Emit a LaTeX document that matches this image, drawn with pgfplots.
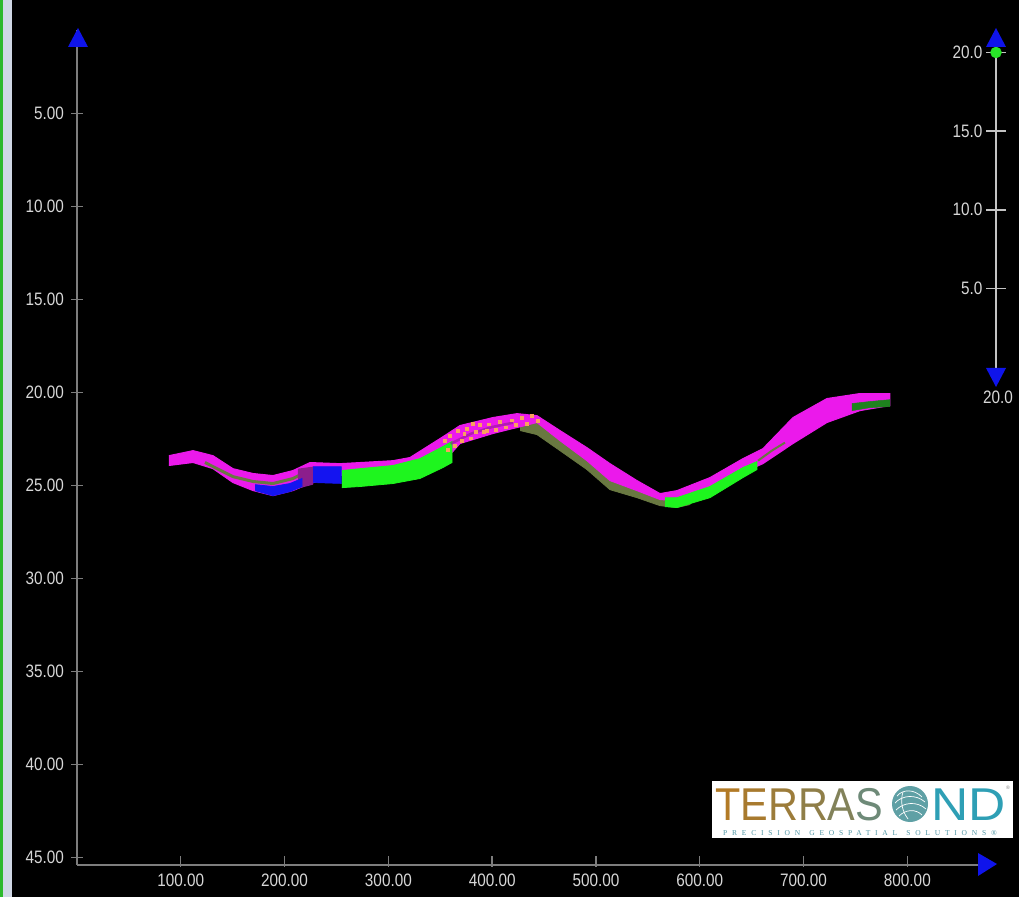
\documentclass[border=0pt]{standalone}
\usepackage{pgfplots}
\pgfplotsset{compat=1.18}
\usepackage{fontspec}
\setmainfont{Liberation Sans}
\newfontfamily\tickfont[FakeStretch=0.85]{Liberation Sans}
\newfontfamily\logofont[FakeStretch=0.9]{Liberation Sans}
\newfontfamily\logowide[FakeStretch=1.12]{Liberation Sans}
\newfontfamily\subfont[LetterSpace=64]{Liberation Serif}
\definecolor{mag}{RGB}{235,25,235}
\definecolor{olv}{RGB}{105,120,65}
\definecolor{bgreen}{RGB}{30,245,30}
\definecolor{dgreen}{RGB}{30,130,30}
\definecolor{bblue}{RGB}{20,20,240}
\definecolor{orng}{RGB}{250,160,95}
\definecolor{purp}{RGB}{140,30,140}
\definecolor{axgray}{RGB}{125,125,125}
\definecolor{scalegray}{RGB}{195,195,195}
\definecolor{lblgray}{RGB}{215,215,215}
\definecolor{arrblue}{RGB}{15,20,235}
\definecolor{dotgreen}{RGB}{40,230,40}
\definecolor{lgA}{RGB}{178,122,38}
\definecolor{lgB}{RGB}{168,122,46}
\definecolor{lgC}{RGB}{156,124,58}
\definecolor{lgD}{RGB}{143,126,72}
\definecolor{lgE}{RGB}{130,130,90}
\definecolor{lgF}{RGB}{110,138,120}
\definecolor{lgN}{RGB}{46,159,181}
\definecolor{lgG}{RGB}{95,160,165}
\definecolor{lgS}{RGB}{80,150,165}
\begin{document}
\begin{tikzpicture}
\useasboundingbox (0,0) rectangle (1019pt,897pt);
\fill[black] (0,0) rectangle (1019pt,897pt);
\fill[fill={rgb,255:red,45;green,185;blue,45}] (0,0) rectangle (3pt,897pt);
\fill[fill={rgb,255:red,208;green,216;blue,230}] (3pt,0) rectangle (12pt,897pt);

\begin{axis}[
  at={(77pt,32pt)}, anchor=south west, scale only axis,
  width=913.4pt, height=835.1pt,
  xmin=0, xmax=880, ymin=0.5, ymax=45.4, y dir=reverse,
  axis x line=bottom, axis y line=left,
  axis line style={draw=axgray, line width=1.6pt, -},
  xtick={100,200,...,800}, ytick={5,10,...,45},
  tick align=center, major tick length=11pt,
  tick style={draw=axgray, line width=1.4pt},
  x tick style={yshift=4pt},
  /pgf/number format/assume math mode=true,
  tick label style={font=\tickfont\fontsize{18}{18}\selectfont, text=lblgray},
  xticklabel style={/pgf/number format/.cd, fixed, fixed zerofill, precision=2, 1000 sep={}},
  yticklabel style={xshift=-4pt, /pgf/number format/.cd, fixed, fixed zerofill, precision=2},
  clip=false,
]
% olive under-layer
\addplot[fill=olv, draw=olv, line width=0.8pt] coordinates {
(426.8,21.18) (443.2,21.29) (465.3,22.10) (491.3,23.01) (513.5,23.92) (539.5,24.95) (561.7,25.59) (578.0,25.70) (590.6,25.48)
(590.6,26.02) (578.0,26.18) (561.7,26.08) (539.5,25.65) (513.5,25.22) (491.3,24.14) (465.3,23.12) (443.2,22.26) (426.8,22.04)};
% magenta main band
\addplot[fill=mag, draw=mag, line width=1pt] coordinates {
(88.6,23.39) (111.8,23.12) (131.0,23.39) (150.3,24.09) (169.6,24.35) (188.8,24.46) (208.1,24.19) (224.5,23.76)
(253.4,23.82) (272.6,23.76) (304.4,23.66) (320.8,23.49) (352.6,22.37) (369.0,21.77) (400.8,21.34) (423.9,21.13)
(443.2,21.24) (465.3,22.04) (491.3,22.96) (513.5,23.82) (539.5,24.73) (561.7,25.43) (578.0,25.27) (609.8,24.57)
(641.6,23.55) (660.9,23.01) (689.8,21.34) (722.5,20.32) (754.3,20.05) (783.2,20.05)
(783.2,20.70) (754.3,20.97) (722.5,21.61) (689.8,22.74) (660.9,23.82) (641.6,24.30) (609.8,25.27) (578.0,25.81)
(561.7,25.75) (539.5,25.27) (513.5,24.73) (491.3,23.66) (465.3,22.58) (443.2,21.61) (423.9,21.88) (400.8,22.20)
(369.0,22.74) (352.6,23.76) (320.8,23.92) (304.4,24.19) (272.6,24.30) (253.4,24.46) (224.5,24.89) (208.1,25.27)
(188.8,25.54) (169.6,25.27) (150.3,24.84) (131.0,24.09) (111.8,23.76) (88.6,23.92)};
% olive stripe in the first dip
\addplot[olv, line width=3pt] coordinates {(123.3,23.76) (150.3,24.52) (169.6,24.78) (188.8,24.89) (208.1,24.62) (219.7,24.30)};
% purple patch
\addplot[fill=purp, draw=none] coordinates {(212.9,24.09) (227.4,23.98) (227.4,24.95) (212.9,25.16)};
% blue in the dip
\addplot[fill=bblue, draw=bblue, line width=0.8pt] coordinates {
(171.5,24.95) (188.8,25.05) (205.2,24.89) (216.8,24.62) (216.8,25.05) (205.2,25.32) (188.8,25.54) (171.5,25.27)};
% blue block
\addplot[fill=bblue, draw=bblue, line width=0.5pt] coordinates {(227.4,23.98) (254.8,23.98) (254.8,24.89) (227.4,24.84)};
% bright green block
\addplot[fill=bgreen, draw=bgreen, line width=0.8pt] coordinates {
(255.3,24.19) (272.6,24.09) (304.4,23.92) (330.4,23.55) (352.6,22.90) (361.3,22.63)
(361.3,23.76) (352.6,24.03) (330.4,24.62) (304.4,24.89) (272.6,25.05) (255.3,25.11)};
% bright green second stretch
\addplot[fill=bgreen, draw=bgreen, line width=0.8pt] coordinates {
(566.5,25.65) (578.0,25.65) (609.8,25.05) (641.6,24.03) (655.1,23.71)
(655.1,24.14) (641.6,24.57) (609.8,25.65) (578.0,26.18) (566.5,26.13)};
% thin olive stripe
\addplot[olv, line width=2pt] coordinates {(656.1,23.66) (670.0,23.10) (682.1,22.69)};
% dark green at the right end
\addplot[fill=dgreen, draw=dgreen, line width=0.5pt] coordinates {
(746.6,20.59) (764.0,20.48) (783.2,20.38) (783.2,20.75) (764.0,20.81) (746.6,20.97)};
% purple tint in the speckled stretch
\addplot[purp, line width=2.5pt, opacity=0.6] coordinates {(360.0,22.75) (380.0,22.20) (400.0,21.85) (420.0,21.62)};
% orange speckles
\addplot[only marks, mark=square*, mark size=1.4pt, color=orng] coordinates {
(354.5,22.58) (359.3,22.30) (367.1,22.05) (370.9,22.58) (375.7,21.94) (379.6,22.45) (384.4,22.10) (388.2,21.73)
(392.1,22.12) (397.0,21.70) (403.7,21.98) (407.5,21.58) (413.3,21.86) (419.1,21.48) (428.8,21.37) (433.5,21.66)
(438.3,21.26) (444.1,21.50) (364.2,22.84) (357.4,23.05) (373.0,22.22) (381.5,21.68) (395.0,22.05) (423.0,21.72)};
\end{axis}
% main axis arrows
\fill[arrblue] (68pt,850pt) -- (88pt,850pt) -- (78pt,869pt) -- cycle;
\fill[arrblue] (978pt,44pt) -- (978pt,21pt) -- (997pt,33pt) -- cycle;

% right-hand scale
\begin{axis}[
  at={(986pt,522pt)}, anchor=south west, scale only axis,
  width=20pt, height=329.6pt,
  xmin=-1, xmax=1, ymin=-0.5, ymax=20.45,
  axis x line=none, axis y line=center,
  axis line style={draw=scalegray, line width=1.8pt, -},
  xtick=\empty, ytick={5,10,15,20},
  tick align=center, major tick length=20pt,
  tick style={draw=scalegray, line width=1.6pt},
  /pgf/number format/assume math mode=true,
  tick label style={font=\tickfont\fontsize{18}{18}\selectfont, text=lblgray},
  yticklabel style={/pgf/number format/.cd, fixed, fixed zerofill, precision=1},
  clip=false,
]
\addplot[only marks, mark=*, mark size=5.5pt, color=dotgreen] coordinates {(0,20)};
\end{axis}
\fill[arrblue] (986pt,850pt) -- (1006pt,850pt) -- (996pt,869pt) -- cycle;
\fill[arrblue] (986pt,529pt) -- (1006pt,529pt) -- (996pt,510pt) -- cycle;
\node[font=\tickfont\fontsize{18}{18}\selectfont, text=lblgray, inner sep=0pt] at (998pt,500pt) {20.0};

% logo
\fill[white] (712pt,59pt) rectangle (1013pt,116pt);
\node[anchor=base west, inner sep=0pt, font=\logofont\fontsize{46}{46}\selectfont] at (715pt,77pt)
  {{\color{lgA}T}{\color{lgB}E}{\color{lgC}R}{\color{lgD}R}{\color{lgE}A}{\color{lgF}S}};
\fill[lgG] (910pt,93pt) circle (18pt);
\begin{scope}[white, line width=0.7pt]
\draw (897pt,101pt) .. controls (903pt,108pt) and (914pt,108pt) .. (922pt,100pt);
\draw (895pt,94pt) .. controls (902pt,102pt) and (916pt,103pt) .. (925pt,95pt);
\draw (896pt,87pt) .. controls (904pt,95pt) and (917pt,96pt) .. (926pt,88pt);
\draw (899pt,81pt) .. controls (906pt,88pt) and (916pt,88pt) .. (922pt,82pt);
\draw (903pt,105pt) .. controls (900pt,96pt) and (902pt,86pt) .. (908pt,78pt);
\end{scope}
\node[anchor=base west, inner sep=0pt, font=\logowide\fontsize{46}{46}\selectfont, text=lgN] at (931pt,77pt) {ND};
\node[anchor=base west, inner sep=0pt, font=\fontsize{5}{5}\selectfont, text=gray] at (1006pt,108pt) {®};
\node[anchor=base west, inner sep=0pt, font=\subfont\fontsize{7.5}{7.5}\selectfont, text=lgS] at (723pt,62pt) {PRECISION\hspace{9pt}GEOSPATIAL\hspace{9pt}SOLUTIONS®};
\end{tikzpicture}
\end{document}
